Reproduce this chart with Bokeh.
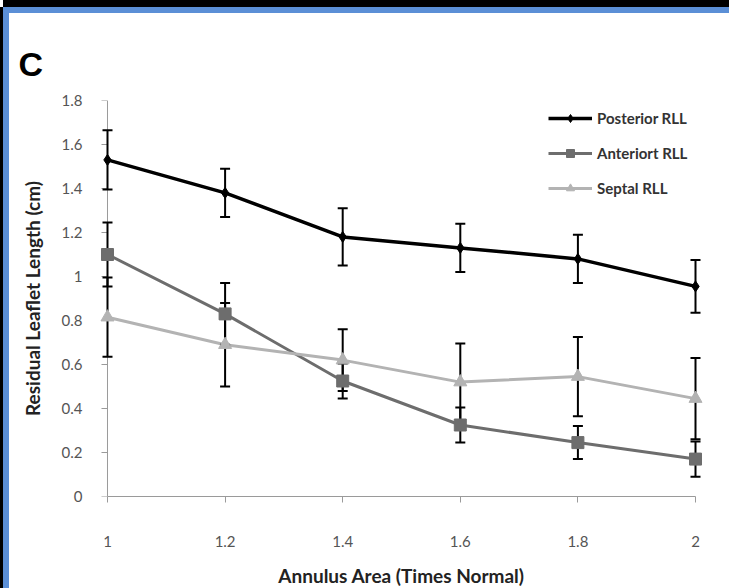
import math
from bokeh.plotting import figure
from bokeh.models import ColumnDataSource, Range1d, FixedTicker, Legend, LegendItem
from bokeh.embed import file_html
from bokeh.resources import INLINE

# ---- data ----
area = [1, 1.2, 1.4, 1.6, 1.8, 2]
posterior = [1.53, 1.38, 1.18, 1.13, 1.08, 0.955]
posterior_err = [0.135, 0.11, 0.13, 0.11, 0.11, 0.12]
anterior = [1.10, 0.83, 0.525, 0.325, 0.245, 0.17]
anterior_err = [0.145, 0.14, 0.08, 0.08, 0.075, 0.08]
septal = [0.815, 0.69, 0.62, 0.52, 0.545, 0.445]
septal_err = [0.18, 0.19, 0.14, 0.175, 0.18, 0.185]

series_names = ["Posterior RLL", "Anteriort RLL", "Septal RLL"]
y_ticks = [0, 0.2, 0.4, 0.6, 0.8, 1, 1.2, 1.4, 1.6, 1.8]
y_tick_labels = ["0", "0.2", "0.4", "0.6", "0.8", "1", "1.2", "1.4", "1.6", "1.8"]
x_ticks = [1, 1.2, 1.4, 1.6, 1.8, 2]
x_tick_labels = ["1", "1.2", "1.4", "1.6", "1.8", "2"]

FONT = "Lato"
AXIS_GRAY = "#9a9a9a"

p = figure(width=726, height=581, output_backend="svg", toolbar_location=None,
           x_range=Range1d(0.983, 2.017), y_range=Range1d(0, 1.8),
           min_border_left=88, min_border_right=30, min_border_top=87, min_border_bottom=98,
           title="C")
p.margin = (7, 0, 0, 3)
p.styles = {"border-top": "6px solid #5b8fd6", "border-left": "6px solid #5b8fd6",
            "box-shadow": "0 -7px 0 0 black, -3px 0 0 0 black"}
p.outline_line_color = None
p.grid.visible = False
p.background_fill_color = "white"
p.border_fill_color = "white"

p.title.align = "left"
p.title.offset = -79
p.title.text_font = "Liberation Sans"
p.title.text_font_style = "bold"
p.title.text_font_size = "34px"
p.title.text_color = "black"
p.title.standoff = 35

# axes
for ax in (p.xaxis[0], p.yaxis[0]):
    ax.axis_line_color = AXIS_GRAY
    ax.major_tick_line_color = AXIS_GRAY
    ax.major_tick_in = 0
    ax.major_tick_out = 6
    ax.minor_tick_line_color = None
    ax.major_label_text_font = FONT
    ax.major_label_text_font_size = "15px"
    ax.major_label_text_color = "#555555"
    ax.axis_label_text_font = FONT
    ax.axis_label_text_font_style = "bold"
    ax.axis_label_text_color = "#222222"

p.xaxis.bounds = (x_ticks[0], x_ticks[-1])
p.yaxis.ticker = FixedTicker(ticks=y_ticks)
p.xaxis.ticker = FixedTicker(ticks=x_ticks)
p.yaxis.major_label_overrides = dict(zip(y_ticks, y_tick_labels))
p.xaxis.major_label_overrides = dict(zip(x_ticks, x_tick_labels))
# y axis line/ticks drawn at x = 1 below; keep only labels on the side axis
p.yaxis.axis_line_color = None
p.yaxis.major_tick_line_color = None
p.yaxis.major_tick_out = 0
p.yaxis.major_label_standoff = 15
p.xaxis.major_label_standoff = 33
p.yaxis.axis_label = "Residual Leaflet Length (cm)"
p.xaxis.axis_label = "Annulus Area (Times Normal)"
p.yaxis.axis_label_text_font_size = "19px"
p.xaxis.axis_label_text_font_size = "19px"
p.yaxis.axis_label_standoff = 15
p.xaxis.axis_label_standoff = 14

# y axis line and outside ticks at x = 1
p.segment(x0=x_ticks[0], y0=y_ticks[0], x1=x_ticks[0], y1=y_ticks[-1],
          line_color=AXIS_GRAY, line_width=1)
p.ray(x=[x_ticks[0]] * len(y_ticks), y=y_ticks, length=6, length_units="screen",
      angle=math.pi, line_color=AXIS_GRAY, line_width=1)

colors = ["#000000", "#6d6d6d", "#b3b3b3"]
markers = ["diamond", "square", "triangle"]
sizes = [11, 12, 13]
widths = [3.5, 3, 3]
vals = [posterior, anterior, septal]
errs = [posterior_err, anterior_err, septal_err]

sources = []
for v, e in zip(vals, errs):
    sources.append(ColumnDataSource(dict(
        x=area, y=v,
        upper=[a + b for a, b in zip(v, e)],
        lower=[a - b for a, b in zip(v, e)])))

lines = []
for src, c, w in zip(sources, colors, widths):
    lines.append(p.line("x", "y", source=src, line_color=c, line_width=w))

for src in sources:
    p.segment(x0="x", y0="lower", x1="x", y1="upper", source=src,
              line_color="black", line_width=2)
    p.scatter("x", "upper", source=src, marker="dash", size=10,
              line_color="black", line_width=2)
    p.scatter("x", "lower", source=src, marker="dash", size=10,
              line_color="black", line_width=2)

marks = []
for src, c, m, s in zip(sources, colors, markers, sizes):
    marks.append(p.scatter("x", "y", source=src, marker=m, size=s,
                           fill_color=c, line_color=c))

legend = Legend(items=[LegendItem(label=n, renderers=[l, mk])
                       for n, l, mk in zip(series_names, lines, marks)],
                location=(451, 298))
legend.padding = 0
legend.margin = 0
legend.spacing = 15
legend.glyph_width = 44
legend.glyph_height = 20
legend.label_height = 20
legend.label_standoff = 5
legend.border_line_alpha = 0
legend.background_fill_alpha = 0
legend.label_text_font = FONT
legend.label_text_font_size = "15px"
legend.label_text_font_style = "bold"
legend.label_text_color = "#333333"
p.add_layout(legend, "center")

open("out.html", "w").write(file_html(p, INLINE))
